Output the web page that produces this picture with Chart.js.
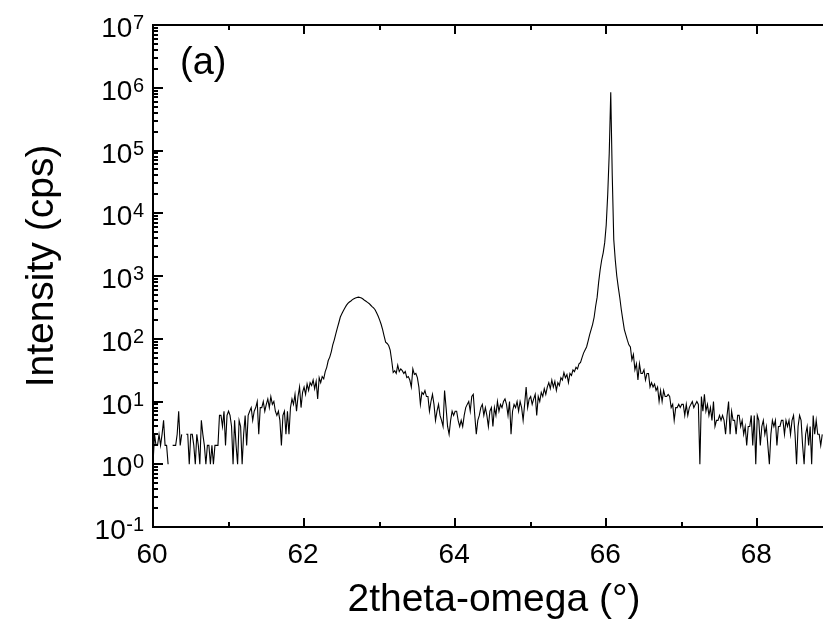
<!DOCTYPE html>
<html>
<head>
<meta charset="utf-8">
<script src="https://cdn.jsdelivr.net/npm/chart.js@4/dist/chart.umd.min.js"></script>
<style>
  html, body { margin: 0; padding: 0; background: #fff; }
  #wrap { width: 823px; height: 623px; }
</style>
</head>
<body>
<div id="wrap"><canvas id="c" width="823" height="623"></canvas></div>
<script>
// ---- scan grid (instrument step) ----
const scanStart = 60.00;
const scanStep = 0.02;

// ---- intensity (cps); null = zero counts (gap on log axis) ----
const seg60_0 = [1,3,2,2,3,2,3,5,2,2,1,null,null,2,2,2,3,7,2,3,null,null,3,3,1];
const seg60_5 = [3,3,2,1,3,2,1,5,3,2,1,2,2,1,2,1,2,2,2,6,6,4,7,2,6];
const seg61_0 = [7,6,4,1,5,2,1,5,4,1,3,6,2,6,7,8,5,7,8,10,3,8,8,10,7];
const seg61_5 = [9,11,8,12,9,10,7,6,7,5,2,6,7,3,7,3,8,11,9,13,7,12,17,8,14];
const seg62_0 = [17,13,19,15,20,18,22,16,21,11,24,20,25,23,30,35,45,51,62,80,96,120,148,180,222];
const seg62_5 = [250,280,310,340,365,385,400,420,435,445,455,460,455,445,430,410,395,380,365,345,325,310,290,260,230];
const seg63_0 = [200,170,140,110,88,84,78,66,45,29,31,28,38,30,33,31,28,30,24,25,22,17,33,27,28];
const seg63_5 = [24,17,9,14,13,15,12,12,7,10,13,9,5,7,9,6,5,4,15,8,4,3,5,7,6];
const seg64_0 = [7,7,5,4,5,4,6,8,9,10,7,12,13,6,3,5,6,8,9,6,8,6,4,7,8];
const seg64_5 = [4,8,6,10,7,9,8,10,11,9,6,10,3,7,9,8,10,7,10,8,5,9,17,8,11];
const seg65_0 = [12,9,11,13,6,12,10,14,12,16,13,17,20,16,22,17,21,15,20,18,24,22,29,24,27];
const seg65_5 = [20,28,26,32,30,35,33,40,42,50,59,66,74,92,115,140,170,220,330,460,800,1260,1800,2340,3400];
const seg66_0 = [6500,20000,90000,850000,40000,3800,1800,1000,660,450,290,200,140,115,95,80,74,46,56,32,40,22,40,28,28];
const seg66_5 = [32,22,28,28,17,20,17,19,15,17,10,15,10,15,12,12,13,12,8,9,5,8,8,9,8];
const seg67_0 = [9,9,6,9,6,8,9,10,8,9,10,9,1,12,7,13,7,9,6,8,5,10,4,5,5];
const seg67_5 = [6,5,6,5,3,6,10,3,7,5,5,3,6,6,4,5,3,4,2,4,4,6,2,6,1];
const seg68_0 = [6,5,2,4,5,3,4,2,1,3,5,4,5,2,4,4,5,5,3,5,4,5,3,5,6];
const seg68_5 = [3,1,4,6,5,2,1,3,4,2,4,1,6,3,5,3,3,2,3];

// ---- axis ticks ----
const xMajorTicks = [60, 62, 64, 66, 68];
const xMinorTicks = [61, 63, 65, 67];
const yDecadeExponents = [-1, 0, 1, 2, 3, 4, 5, 6, 7];
const xTitle = '2theta-omega (°)';
const yTitle = 'Intensity (cps)';
const panelLabel = '(a)';

const intensity = [].concat(seg60_0, seg60_5, seg61_0, seg61_5, seg62_0, seg62_5,
  seg63_0, seg63_5, seg64_0, seg64_5, seg65_0, seg65_5, seg66_0, seg66_5,
  seg67_0, seg67_5, seg68_0, seg68_5);
const points = intensity.map((v, i) => ({ x: +(scanStart + i * scanStep).toFixed(2), y: v }));

const FONT = '"Liberation Sans", Arial, sans-serif';

const decoPlugin = {
  id: 'deco',
  afterDraw(chart) {
    const { ctx, chartArea: a, scales: { x, y } } = chart;
    ctx.save();
    ctx.strokeStyle = '#000';
    ctx.fillStyle = '#000';
    ctx.lineWidth = 2;
    ctx.beginPath();
    ctx.moveTo(a.left - 1, a.top); ctx.lineTo(a.right, a.top);
    ctx.moveTo(a.left, a.top - 1); ctx.lineTo(a.left, a.bottom + 1);
    ctx.moveTo(a.left - 1, a.bottom); ctx.lineTo(a.right, a.bottom);
    ctx.stroke();

    // x ticks (inward, top & bottom)
    ctx.beginPath();
    xMajorTicks.forEach(v => {
      const px = Math.round(x.getPixelForValue(v));
      ctx.moveTo(px, a.bottom); ctx.lineTo(px, a.bottom - 9);
      ctx.moveTo(px, a.top); ctx.lineTo(px, a.top + 9);
    });
    xMinorTicks.forEach(v => {
      const px = Math.round(x.getPixelForValue(v));
      ctx.moveTo(px, a.bottom); ctx.lineTo(px, a.bottom - 5);
      ctx.moveTo(px, a.top); ctx.lineTo(px, a.top + 5);
    });
    // y ticks (inward, left)
    yDecadeExponents.forEach(e => {
      const py = Math.round(y.getPixelForValue(Math.pow(10, e)));
      ctx.moveTo(a.left, py); ctx.lineTo(a.left + 10, py);
      if (e < 7) {
        for (let m = 2; m <= 9; m++) {
          const pm = Math.round(y.getPixelForValue(m * Math.pow(10, e)));
          ctx.moveTo(a.left, pm); ctx.lineTo(a.left + 5, pm);
        }
      }
    });
    ctx.stroke();

    // x tick labels
    ctx.font = '28px ' + FONT;
    ctx.textAlign = 'center';
    ctx.textBaseline = 'alphabetic';
    xMajorTicks.forEach(v => {
      ctx.fillText(String(v), x.getPixelForValue(v) - 1, 563);
    });

    // y tick labels: 10^e
    const rightEdge = 144;
    yDecadeExponents.forEach(e => {
      const py = y.getPixelForValue(Math.pow(10, e));
      const exp = String(e);
      ctx.font = '20px ' + FONT;
      const ew = ctx.measureText(exp).width;
      ctx.textAlign = 'left';
      ctx.fillText(exp, rightEdge - ew, py + 4);
      ctx.font = '28px ' + FONT;
      ctx.textAlign = 'right';
      ctx.fillText('10', rightEdge - ew - 0.5, py + 12);
    });

    // axis titles
    ctx.font = '39px ' + FONT;
    ctx.textAlign = 'center';
    ctx.fillText(xTitle, 494, 611);
    ctx.save();
    ctx.translate(53, 266);
    ctx.rotate(-Math.PI / 2);
    ctx.font = '39px ' + FONT;
    ctx.fillText(yTitle, 0, 0);
    ctx.restore();

    // panel label
    ctx.font = '38px ' + FONT;
    ctx.textAlign = 'left';
    ctx.fillText(panelLabel, 180, 74);
    ctx.restore();
  }
};

new Chart(document.getElementById('c'), {
  type: 'line',
  data: {
    datasets: [{
      data: points,
      borderColor: '#000',
      borderWidth: 1.1,
      pointRadius: 0,
      tension: 0,
      spanGaps: false,
      fill: false
    }]
  },
  options: {
    responsive: false,
    animation: false,
    devicePixelRatio: 1,
    layout: { padding: { top: 25, left: 0, right: 0, bottom: 0 } },
    plugins: { legend: { display: false }, tooltip: { enabled: false }, title: { display: false } },
    scales: {
      x: {
        type: 'linear', min: 60, max: 68.87,
        ticks: { display: false }, grid: { display: false }, border: { display: false },
        afterFit(s) { s.height = 96; }
      },
      y: {
        type: 'logarithmic', min: 0.1, max: 1e7,
        ticks: { display: false }, grid: { display: false }, border: { display: false },
        afterFit(s) { s.width = 153; }
      }
    }
  },
  plugins: [decoPlugin]
});
</script>
</body>
</html>
